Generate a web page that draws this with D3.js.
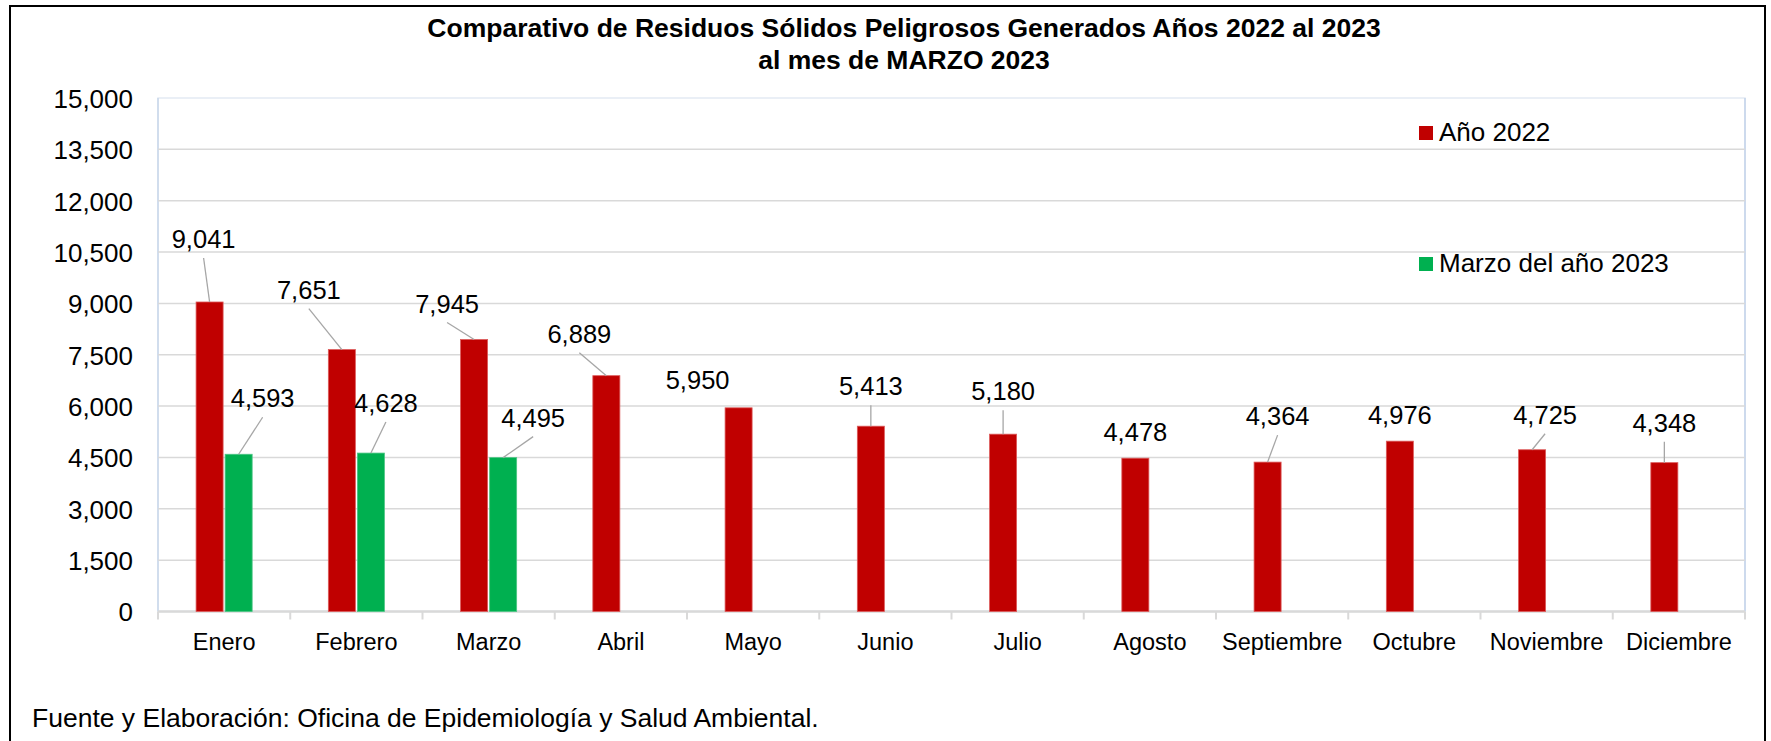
<!DOCTYPE html>
<html>
<head>
<meta charset="utf-8">
<script src="https://cdn.jsdelivr.net/npm/d3@7"></script>
<style>
  body { margin: 0; background: #fff; }
  text { font-family: "Liberation Sans", Arial, sans-serif; fill: #000; }
</style>
</head>
<body>
<div id="chart"></div>
<script>
// data
const months = ["Enero", "Febrero", "Marzo", "Abril", "Mayo", "Junio", "Julio",
    "Agosto", "Septiembre", "Octubre", "Noviembre", "Diciembre"];
const seriesNames = ["Año 2022", "Marzo del año 2023"];
const values2022 = [9041, 7651, 7945, 6889, 5950, 5413, 5180, 4478, 4364, 4976, 4725, 4348];
const values2023 = [4593, 4628, 4495];
const yTicks = [0, 1500, 3000, 4500, 6000, 7500, 9000, 10500, 12000, 13500, 15000];
const titleLines = ["Comparativo de Residuos Sólidos Peligrosos Generados Años 2022 al 2023",
    "al mes de MARZO 2023"];
const footnote = "Fuente y Elaboración: Oficina de Epidemiología y Salud Ambiental.";

// label placement (dx, dy from the top centre of each bar), like the excel layout
const labelShift2022 = [[-6, -54], [-33, -51], [-27, -27], [-27, -33], [-41, -19], [0, -31],
    [0, -34], [0, -17], [10, -37], [0, -17], [13, -26], [0, -31]];
const labelShift2023 = [[24, -47], [15, -41], [30, -31]];

const colors = ["#C00000", "#00B050"];

const width = 1771, height = 741;
const margin = { top: 98, right: 26, bottom: 130, left: 158 };
const graphWidth = width - margin.left - margin.right;
const graphHeight = 611.5 - margin.top;

const svg = d3.select("#chart").append("svg")
    .attr("width", width)
    .attr("height", height);

svg.append("rect")
    .attr("width", width).attr("height", height)
    .attr("fill", "#fff");

// outer frame (bottom edge runs off the page)
svg.append("rect")
    .attr("x", 10).attr("y", 6)
    .attr("width", 1755).attr("height", 800)
    .attr("fill", "none")
    .attr("stroke", "#000")
    .attr("stroke-width", 2);

const graph = svg.append("g")
    .attr("transform", `translate(${margin.left},${margin.top})`);

const x0 = d3.scaleBand()
    .domain(months)
    .range([0, graphWidth])
    .paddingInner(0.576)
    .paddingOuter(0.288);

const x1 = d3.scaleBand()
    .domain(seriesNames)
    .range([0, x0.bandwidth()])
    .paddingInner(0.07);

const y = d3.scaleLinear()
    .domain([0, 15000])
    .range([graphHeight, 0]);

// plot area box
graph.append("rect")
    .attr("width", graphWidth).attr("height", graphHeight)
    .attr("fill", "none")
    .attr("stroke", "#E3EAF4")
    .attr("stroke-width", 1.5);
graph.append("line")
    .attr("x1", 0).attr("x2", 0).attr("y1", 0).attr("y2", graphHeight)
    .attr("stroke", "#C9D7EA").attr("stroke-width", 1.5);
graph.append("line")
    .attr("x1", graphWidth).attr("x2", graphWidth).attr("y1", 0).attr("y2", graphHeight)
    .attr("stroke", "#C3D3EA").attr("stroke-width", 1.5);

// gridlines
graph.append("g")
    .selectAll("line")
    .data(yTicks.filter(d => d > 0 && d < 15000))
    .enter().append("line")
    .attr("x1", 0).attr("x2", graphWidth)
    .attr("y1", d => y(d)).attr("y2", d => y(d))
    .attr("stroke", "#D9D9D9")
    .attr("stroke-width", 1.5);

// y axis labels
const yAxisGroup = graph.append("g")
    .call(d3.axisLeft(y).tickValues(yTicks).tickSize(0).tickPadding(25).tickFormat(d3.format(",")));
yAxisGroup.select(".domain").remove();
yAxisGroup.selectAll("text")
    .style("font-size", "26px")
    .attr("dy", "0.36em");

// x axis
const xAxisGroup = graph.append("g")
    .attr("transform", `translate(0, ${graphHeight})`)
    .call(d3.axisBottom(x0).tickSize(0).tickPadding(22));
xAxisGroup.select(".domain").remove();
xAxisGroup.selectAll("text")
    .style("font-size", "23.5px");

graph.append("line")
    .attr("x1", 0).attr("x2", graphWidth)
    .attr("y1", graphHeight).attr("y2", graphHeight)
    .attr("stroke", "#D9D9D9")
    .attr("stroke-width", 2.5);

graph.append("g")
    .selectAll("line")
    .data(d3.range(months.length + 1))
    .enter().append("line")
    .attr("x1", i => i * x0.step()).attr("x2", i => i * x0.step())
    .attr("y1", graphHeight).attr("y2", graphHeight + 8)
    .attr("stroke", "#D9D9D9")
    .attr("stroke-width", 2);

// bars
const barData = [];
values2022.forEach((v, i) => barData.push({ month: months[i], series: 0, value: v, shift: labelShift2022[i] }));
values2023.forEach((v, i) => barData.push({ month: months[i], series: 1, value: v, shift: labelShift2023[i] }));

graph.selectAll(".bar")
    .data(barData)
    .enter().append("rect")
    .attr("class", "bar")
    .attr("x", d => x0(d.month) + x1(seriesNames[d.series]))
    .attr("y", d => y(d.value))
    .attr("width", x1.bandwidth())
    .attr("height", d => graphHeight - y(d.value))
    .attr("fill", d => colors[d.series])
    .attr("stroke", d => d.series === 0 ? "#DC5A5A" : "#4CC584")
    .attr("stroke-width", 0.8);

// data labels and leader lines
const cx = d => x0(d.month) + x1(seriesNames[d.series]) + x1.bandwidth() / 2;

graph.selectAll(".leader")
    .data(barData.filter(d => y(d.value) - (y(d.value) + d.shift[1] + 10) > 12))
    .enter().append("line")
    .attr("class", "leader")
    .attr("x1", d => cx(d) + d.shift[0])
    .attr("y1", d => y(d.value) + d.shift[1] + 10)
    .attr("x2", d => cx(d))
    .attr("y2", d => y(d.value))
    .attr("stroke", "#A6A6A6")
    .attr("stroke-width", 1.3);

graph.selectAll(".label")
    .data(barData)
    .enter().append("text")
    .attr("class", "label")
    .attr("x", d => cx(d) + d.shift[0])
    .attr("y", d => y(d.value) + d.shift[1])
    .attr("text-anchor", "middle")
    .style("font-size", "25.5px")
    .text(d => d3.format(",")(d.value));

// title
svg.append("g")
    .selectAll("text")
    .data(titleLines)
    .enter().append("text")
    .attr("x", 904)
    .attr("y", (d, i) => 37 + i * 32)
    .attr("text-anchor", "middle")
    .style("font-size", "26.5px")
    .style("font-weight", "bold")
    .text(d => d);

// legend
const legend = svg.append("g")
    .attr("transform", "translate(1419, 126)");

legend.selectAll("rect")
    .data(seriesNames)
    .enter().append("rect")
    .attr("x", 0)
    .attr("y", (d, i) => i * 131)
    .attr("width", 14)
    .attr("height", 14)
    .attr("fill", (d, i) => colors[i]);

legend.selectAll("text")
    .data(seriesNames)
    .enter().append("text")
    .attr("x", 20)
    .attr("y", (d, i) => i * 131 + 15)
    .style("font-size", "26px")
    .text(d => d);

// source note
svg.append("text")
    .attr("x", 32)
    .attr("y", 727)
    .style("font-size", "26.5px")
    .text(footnote);
</script>
</body>
</html>
